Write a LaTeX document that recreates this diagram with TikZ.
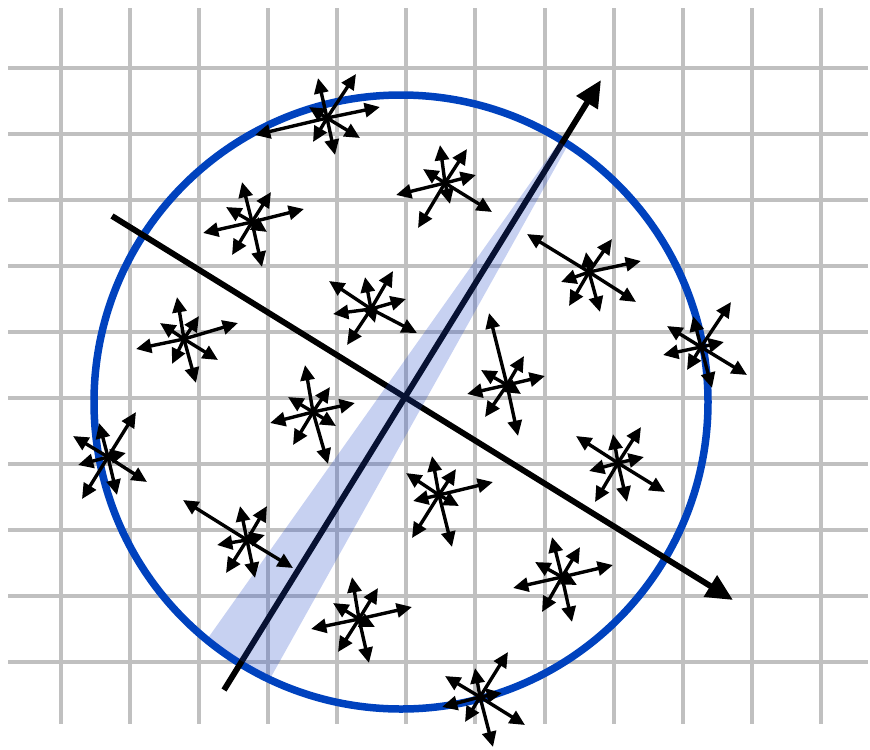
\documentclass[tikz,border=0pt]{standalone}
\usetikzlibrary{arrows.meta}
\definecolor{gridgray}{RGB}{192,192,192}
\definecolor{circblue}{RGB}{0,66,190}
\definecolor{bandblue}{RGB}{30,70,200}
\tikzset{
  gridline/.style={gridgray, line width=3pt},
  ring/.style={circblue, line width=6.4pt},
  axisline/.style={black, line width=5pt, -{Triangle[length=0.8cm,width=0.72cm]}},
  stararrow/.style={black, line width=2.9pt, -{Triangle[length=0.46cm,width=0.42cm]}},
  band/.style={fill=bandblue, fill opacity=0.25}
}
\newcommand{\tensorstar}[3]{%
  \coordinate (#1) at (#2);
  \foreach \tx/\ty in {#3} \draw[stararrow] (#1) -- (\tx,\ty);
}
\begin{document}
\begin{tikzpicture}[x=0.03cm,y=-0.03cm]
\useasboundingbox (0,0) rectangle (870,749);
% grid
\foreach \gx in {61,130,199,268,337,406,475,545,614,683,752,821}
  \draw[gridline] (\gx,8) -- (\gx,724);
\foreach \gy in {68,134,200,266,332,398,464,530,596,662}
  \draw[gridline] (8,\gy) -- (868,\gy);
% circle
\coordinate (ctr) at (401,402);
\draw[ring] (ctr) circle [radius=307];
% axes
\coordinate (a1s) at (112,216);
\coordinate (a1e) at (733,600);
\coordinate (a2s) at (224,690);
\coordinate (a2e) at (601,80);
\draw[axisline] (a1s) -- (a1e);
\draw[axisline] (a2s) -- (a2e);
% band
\begin{scope}
  \clip (ctr) circle [radius=304];
  \fill[band] (589,100) -- (593,100) -- (247,720) -- (150,720) -- cycle;
\end{scope}
% stars
\tensorstar{sA}{327,118}{255/135,380/107,318/78,356/74,309/107,313/142,335/155,360/138}
\tensorstar{sB}{445,183}{440/145,467/149,423/169,476/175,396/195,418/228,450/204,492/212}
\tensorstar{sC}{252,222}{242/182,271/192,226/207,304/209,203/233,232/255,262/267,267/232}
\tensorstar{sD}{589,272}{527/234,586/252,612/239,641/261,561/282,569/306,600/312,636/302}
\tensorstar{sE}{371,309}{329/281,365/277,393/271,406/299,333/314,347/345,375/323,417/333}
\tensorstar{sF}{184,339}{177/297,160/323,199/316,238/323,136/349,172/364,196/383,218/360}
\tensorstar{sG}{701,347}{731/302,693/316,667/326,724/342,663/355,687/370,712/388,747/375}
\tensorstar{sH}{507,385}{489/313,524/356,481/370,545/376,467/394,485/417,518/436,521/394}
\tensorstar{sI}{108,457}{136/412,99/423,73/436,126/453,78/465,82/499,117/495,147/482}
\tensorstar{sJ}{313,412}{305/365,330/387,288/397,355/403,270/423,293/445,328/464,336/426}
\tensorstar{sK}{247,540}{183/500,240/506,267/506,265/535,217/545,226/573,255/578,293/568}
\tensorstar{sL}{439,495}{432/456,456/469,406/473,493/482,413/501,412/538,452/547,459/506}
\tensorstar{sM}{618,463}{576/436,613/434,641/427,644/457,589/471,595/502,627/502,665/492}
\tensorstar{sN}{562,577}{552/537,580/547,535/562,613/565,513/588,542/612,572/622,577/585}
\tensorstar{sO}{359,619}{352/577,378/588,333/603,412/607,311/629,338/652,369/663,375/627}
\tensorstar{sP}{480,697}{508/652,475/668,445/676,502/693,442/707,465/722,493/747,525/725}
\end{tikzpicture}
\end{document}
